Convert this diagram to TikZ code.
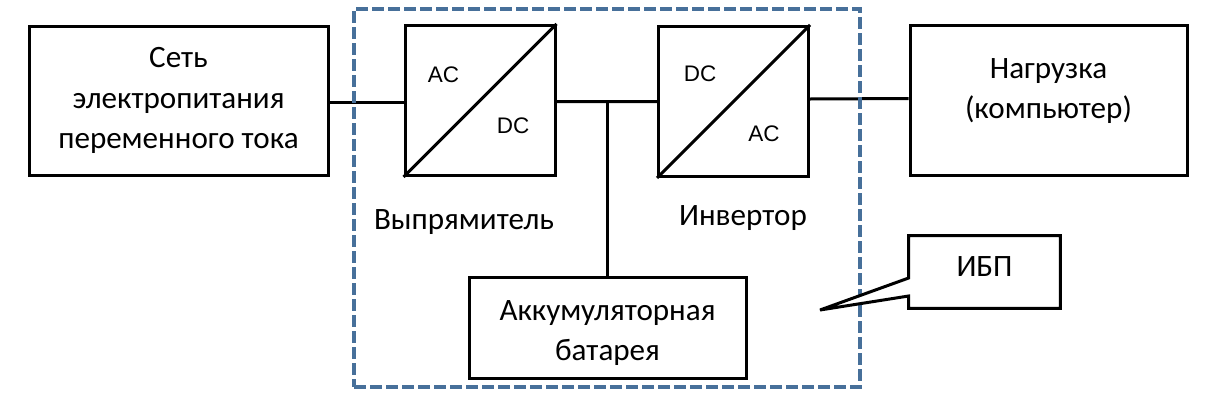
\documentclass[tikz,border=0pt]{standalone}
\usepackage{fontspec}
\setmainfont{Carlito}
\newfontfamily\labelfont{Liberation Sans}
\definecolor{framecol}{HTML}{47709A}
\begin{document}
\begin{tikzpicture}[main/.style={draw, rectangle, line width=0.06cm, minimum width=#1, font=\fontsize{17.7}{23}\selectfont, align=center}, conv/.style={draw, rectangle, line width=0.06cm, minimum size=3cm}, caption/.style={font=\fontsize{17.7}{23}\selectfont, align=center}, volt/.style={font=\labelfont\fontsize{12.8}{14}\selectfont}, n/.style={line width=0.06cm}, d/.style={draw=framecol, line width=0.08cm, dash pattern=on 0.24cm off 0.08cm}]
            \useasboundingbox (0,0) rectangle (24.28,8.1);
            % nodes
            \node[main=5.98cm, minimum height=2.98cm] (net) at (3.57,6.09) {Сеть\\электропитания\\переменного тока};
            \node[conv] (rect) at (9.6,6.09) {};
            \node[conv] (inv) at (14.67,6.07) {};
            \node[main=5.54cm, minimum height=3cm] (load) at (20.97,6.09) {};
            \node[main=5.54cm, minimum height=2.02cm] (batt) at (12.15,1.55) {};
            \node[caption] (loadlabel) at (20.97,6.28) {Нагрузка\\(компьютер)};
            \node[caption] (battlabel) at (12.15,1.44) {Аккумуляторная\\батарея};
            \node[volt] (ac1) at (8.87,6.6) {AC};
            \node[volt] (dc1) at (10.26,5.58) {DC};
            \node[volt] (dc2) at (14,6.62) {DC};
            \node[volt] (ac2) at (15.28,5.42) {AC};
            \node[caption] (rectlabel) at (9.28,3.66) {Выпрямитель};
            \node[caption] (invlabel) at (14.86,3.74) {Инвертор};
            \node[minimum width=3.02cm, minimum height=1.44cm] (ups) at (19.69,2.66) {};
            \coordinate (tip) at (16.4,1.9);
            \coordinate (junction) at (12.14,6.08);
            % edges
            \draw [n] ([yshift=-0.03cm]net.east) -- ([yshift=-0.03cm]rect.west);
            \draw [n] ([yshift=-0.02cm]rect.east) -- (inv.west);
            \draw [n] ([yshift=0.05cm]inv.east) -- ([yshift=0.04cm]load.west);
            \draw [n] (junction) -- (batt.north -| junction);
            \draw [n] (rect.south west) -- (rect.north east);
            \draw [n] (inv.south west) -- (inv.north east);
            \node[d, minimum width=10.12cm, minimum height=7.56cm] (frame) at (12.14,4.14) {};
            \draw [n, fill=white] (ups.north west) -- (ups.north east) -- (ups.south east) -- (ups.south west) -- ([yshift=-0.48cm]ups.west) -- (tip) -- ([yshift=-0.12cm]ups.west) -- cycle;
            \node[caption] (upslabel) at (19.69,2.76) {ИБП};
        \end{tikzpicture}
\end{document}
